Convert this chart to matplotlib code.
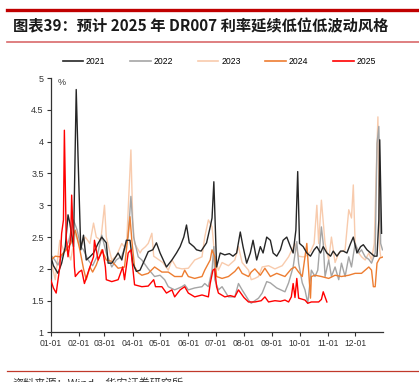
import matplotlib
matplotlib.use("Agg")
import matplotlib.pyplot as plt
from matplotlib.lines import Line2D


TITLE = "图表39：预计 2025 年 DR007 利率延续低位低波动风格"
SOURCE = "资料来源：Wind，华安证券研究所"

MONTH_TICKS = [0, 31, 59, 90, 120, 151, 181, 212, 243, 273, 304, 334]
MONTH_LABELS = ["01-01", "02-01", "03-01", "04-01", "05-01", "06-01",
                "07-01", "08-01", "09-01", "10-01", "11-01", "12-01"]
Y_TICKS = [1, 1.5, 2, 2.5, 3, 3.5, 4, 4.5, 5]
Y_LABELS = ["1", "1.5", "2", "2.5", "3", "3.5", "4", "4.5", "5"]

# day of year -> DR007 (%)
DAYS_2021 = [0, 3, 8, 12, 16, 19, 21, 25, 28, 30, 33, 36, 39, 43, 47, 52, 56, 61, 63, 67,
             74, 78, 83, 87, 90, 94, 98, 103, 107, 112, 116, 120, 127, 133, 138, 142, 146,
             149, 152, 157, 160, 165, 171, 175, 177, 179, 182, 186, 191, 196, 200, 204,
             208, 211, 215, 219, 222, 226, 230, 233, 237, 241, 244, 248, 252, 255, 259,
             263, 266, 269, 271, 273, 277, 281, 285, 289, 292, 296, 299, 303, 307, 310,
             314, 318, 321, 325, 329, 332, 336, 340, 343, 347, 351, 355, 358, 360, 361, 363]
RATE_2021 = [2.2, 2.05, 1.93, 2.09, 2.35, 2.85, 2.72, 2.35, 4.82, 3.76, 2.3, 2.53, 2.14, 2.19,
             2.25, 2.4, 2.5, 2.41, 2.09, 2.09, 2.25, 2.14, 2.45, 2.45, 2.09, 1.96, 1.98, 2.14,
             2.27, 2.3, 2.41, 2.25, 2.03, 2.14, 2.25, 2.35, 2.5, 2.69, 2.41, 2.35, 2.3, 2.28,
             2.41, 2.66, 2.8, 3.37, 2.03, 2.25, 2.22, 2.24, 2.2, 2.25, 2.58, 2.35, 2.09, 2.25,
             2.45, 2.14, 2.35, 2.25, 2.5, 2.45, 2.25, 2.2, 2.3, 2.45, 2.5, 2.35, 2.25, 2.61,
             3.53, 2.4, 2.35, 2.25, 2.2, 2.3, 2.35, 2.25, 2.35, 2.25, 2.2, 2.28, 2.2, 2.28,
             2.28, 2.25, 2.4, 2.5, 2.25, 2.35, 2.38, 2.3, 2.25, 2.2, 2.2, 2.77, 4.03, 2.56]

DAYS_2022 = [0, 4, 8, 12, 16, 20, 25, 29, 33, 36, 41, 46, 51, 56, 61, 67, 72, 78, 85, 88, 91,
             96, 100, 107, 114, 120, 125, 129, 136, 144, 147, 151, 158, 166, 169, 173, 177,
             179, 180, 184, 188, 195, 202, 206, 210, 217, 220, 228, 232, 237, 241, 248, 257,
             261, 266, 270, 272, 276, 279, 282, 286, 290, 293, 297, 299, 301, 305, 308, 312,
             316, 319, 323, 327, 330, 334, 338, 341, 345, 349, 352, 356, 358, 360, 361, 362, 364]
RATE_2022 = [2.22, 2.15, 2.06, 2.2, 2.3, 2.45, 2.77, 2.61, 2.35, 2.3, 2.14, 2.05, 2.2, 2.53,
             2.25, 2.03, 2.14, 2.2, 2.5, 3.14, 2.5, 2.19, 2.14, 2.0, 1.88, 1.9, 1.83, 1.72,
             1.67, 1.72, 1.75, 1.67, 1.7, 1.72, 1.77, 1.72, 1.98, 2.35, 1.83, 1.67, 1.72,
             1.56, 1.56, 1.77, 1.67, 1.51, 1.46, 1.54, 1.62, 1.8, 1.78, 1.7, 1.64, 1.78, 2.03,
             2.43, 2.09, 1.78, 1.67, 1.46, 1.98, 1.88, 1.98, 2.66, 2.4, 1.88, 2.14, 1.88, 2.03,
             1.83, 2.09, 1.88, 2.19, 2.03, 2.4, 2.25, 2.3, 2.19, 2.15, 2.09, 2.25, 3.97, 4.24,
             3.55, 2.4, 2.3]

DAYS_2023 = [0, 5, 10, 14, 18, 22, 27, 32, 38, 43, 47, 50, 55, 59, 61, 67, 72, 78, 83, 88, 90,
             92, 98, 100, 104, 107, 111, 113, 118, 123, 129, 133, 138, 144, 151, 158, 166,
             169, 173, 177, 180, 184, 188, 195, 202, 206, 210, 217, 220, 224, 228, 232, 239,
             246, 254, 261, 268, 272, 276, 279, 285, 289, 292, 294, 297, 301, 305, 308, 312,
             316, 323, 327, 330, 332, 334, 338, 341, 345, 349, 352, 355, 357, 359, 361, 362]
RATE_2023 = [2.14, 1.83, 2.45, 2.3, 2.3, 2.14, 2.56, 2.35, 2.5, 2.4, 2.72, 2.5, 2.45, 3.0, 2.5,
             2.14, 2.2, 2.4, 2.3, 3.87, 2.77, 2.4, 2.25, 2.3, 2.35, 2.4, 2.56, 2.2, 2.15, 2.1,
             1.98, 2.14, 2.02, 2.0, 2.01, 2.14, 2.19, 2.5, 2.77, 2.66, 2.19, 1.98, 2.1, 2.05,
             2.14, 2.35, 2.1, 1.98, 1.83, 1.85, 1.88, 2.03, 2.05, 2.0, 2.05, 2.19, 2.4, 2.2,
             2.19, 2.19, 2.27, 2.4, 3.0, 2.4, 3.08, 2.4, 2.14, 2.5, 2.1, 2.25, 2.3, 2.93, 2.8,
             3.32, 2.4, 2.25, 2.19, 2.14, 2.25, 2.14, 2.4, 3.45, 4.39, 2.3, 2.2]

DAYS_2024 = [0, 5, 10, 17, 22, 27, 32, 36, 39, 43, 46, 50, 56, 61, 67, 74, 81, 87, 89, 92, 96,
             100, 107, 114, 122, 129, 136, 144, 147, 151, 158, 166, 169, 175, 177, 180, 182,
             188, 195, 202, 206, 210, 217, 220, 224, 230, 235, 241, 248, 257, 264, 268, 272,
             276, 281, 285, 286, 290, 297, 305, 312, 319, 327, 334, 341, 349, 352, 354, 356,
             358, 361, 365]
RATE_2024 = [2.14, 2.2, 2.19, 2.3, 2.4, 2.61, 2.3, 2.0, 1.83, 2.03, 1.95, 2.06, 2.3, 2.14,
             2.12, 2.01, 2.03, 2.82, 2.45, 2.03, 1.94, 1.9, 1.93, 2.03, 1.95, 1.95, 1.88, 1.88,
             1.98, 1.88, 1.85, 1.88, 1.98, 2.14, 2.3, 2.19, 1.88, 1.85, 1.88, 1.96, 2.03, 1.93,
             1.88, 1.95, 2.0, 1.9, 2.01, 1.88, 1.93, 1.88, 2.0, 2.03, 1.95, 1.88, 2.4, 1.54,
             1.88, 1.9, 1.88, 1.85, 1.9, 1.88, 1.9, 1.93, 1.93, 2.03, 1.98, 1.72, 1.72, 2.09,
             2.17, 2.19]

DAYS_2025 = [0, 3, 6, 10, 12, 14, 15, 17, 19, 22, 23, 26, 27, 31, 34, 37, 43, 47, 48, 52, 57,
             60, 61, 67, 74, 79, 81, 85, 88, 92, 100, 107, 113, 115, 122, 127, 133, 136, 142,
             147, 151, 158, 166, 173, 175, 178, 180, 182, 184, 191, 197, 202, 206, 212, 217,
             224, 231, 235, 239, 246, 252, 257, 261, 264, 266, 268, 270, 272, 279, 282, 286,
             294, 297, 299, 301, 303]
RATE_2025 = [1.83, 1.7, 1.62, 2.03, 2.56, 2.77, 4.18, 2.5, 2.19, 2.5, 3.16, 2.03, 1.88, 1.95,
             1.98, 1.77, 2.03, 2.19, 2.45, 2.14, 2.3, 2.03, 1.83, 1.8, 1.83, 2.03, 1.83, 2.25,
             2.3, 1.75, 1.72, 1.73, 1.83, 1.72, 1.72, 1.62, 1.67, 1.56, 1.67, 1.72, 1.62, 1.56,
             1.59, 1.56, 1.77, 1.98, 2.0, 1.72, 1.62, 1.56, 1.58, 1.56, 1.67, 1.55, 1.48, 1.48,
             1.5, 1.56, 1.48, 1.5, 1.49, 1.51, 1.48, 1.56, 1.77, 1.55, 1.85, 1.54, 1.51, 1.46,
             1.48, 1.48, 1.52, 1.64, 1.56, 1.48]

SERIES = [
    ("2021", DAYS_2021, RATE_2021, "#262626", 4),
    ("2022", DAYS_2022, RATE_2022, "#a5a5a5", 2),
    ("2023", DAYS_2023, RATE_2023, "#f8cbad", 1),
    ("2024", DAYS_2024, RATE_2024, "#ed7d31", 3),
    ("2025", DAYS_2025, RATE_2025, "#ff0000", 5),
]


def main():
    plt.rcParams["font.family"] = ["Liberation Sans", "Noto Sans CJK SC", "DejaVu Sans"]

    fig = plt.figure(figsize=(4.19, 3.82), dpi=100)
    ax = fig.add_axes([0.121, 0.1296, 0.794, 0.666])

    handles = []
    for label, days, rates, color, z in SERIES:
        ax.plot(days, rates, color=color, linewidth=1.0, zorder=z)
        handles.append(Line2D([], [], color=color, linewidth=1.2, label=label))

    ax.set_xlim(0, 365)
    ax.set_ylim(1, 5)
    ax.set_xticks(MONTH_TICKS)
    ax.set_xticklabels(MONTH_LABELS, fontsize=6.2)
    ax.set_yticks(Y_TICKS)
    ax.set_yticklabels(Y_LABELS, fontsize=6.5)
    ax.tick_params(direction="out", length=3, width=0.8, colors="#333333", pad=2)
    for side in ("top", "right"):
        ax.spines[side].set_visible(False)
    for side in ("left", "bottom"):
        ax.spines[side].set_color("#333333")
        ax.spines[side].set_linewidth(0.9)
    ax.text(0.02, 1.0, "%", transform=ax.transAxes, fontsize=6.5, color="#333333",
            ha="left", va="top")

    fig.legend(handles=handles, loc="center", bbox_to_anchor=(0.523, 0.838), ncol=5,
               frameon=False, fontsize=6.2, handlelength=2.4, handletextpad=0.3,
               columnspacing=2.9)

    # header / footer rules
    fig.add_artist(Line2D([0.017, 1.0], [0.974, 0.974], color="#c00000", linewidth=2.4))
    fig.add_artist(Line2D([0.017, 1.0], [0.890, 0.890], color="#d9696b", linewidth=1.2))
    fig.add_artist(Line2D([0.017, 1.0], [0.029, 0.029], color="#c0392b", linewidth=0.9))

    fig.text(0.03, 0.932, TITLE, fontsize=11, fontweight="bold",
             family=["Noto Sans CJK SC", "DejaVu Sans"], ha="left", va="center",
             color="#1a1a1a")
    fig.text(0.03, 0.012, SOURCE, fontsize=8, family=["Noto Sans CJK SC", "DejaVu Sans"],
             ha="left", va="top", color="#333333")

    fig.savefig("out.png", dpi=100)


if __name__ == "__main__":
    main()
